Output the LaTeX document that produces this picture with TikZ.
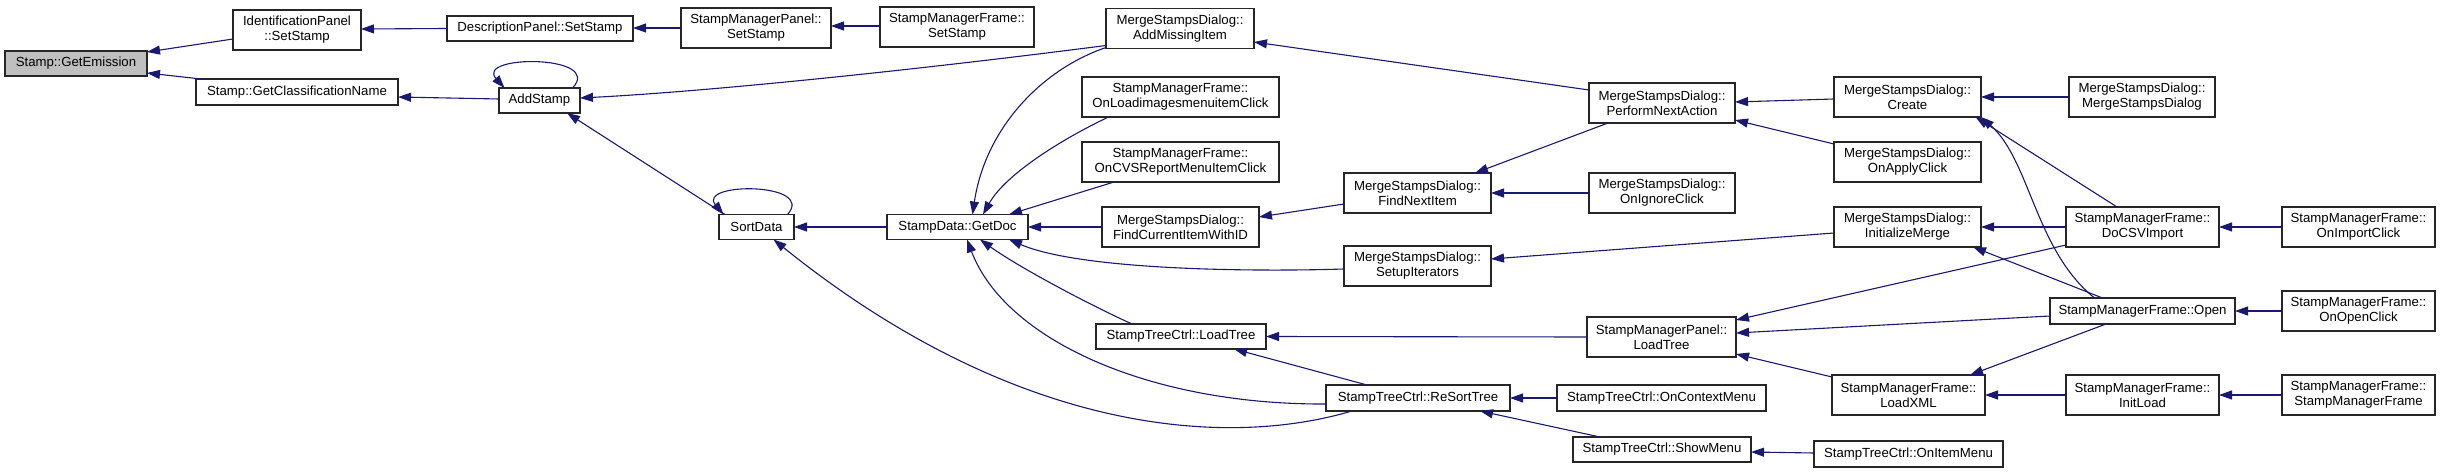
\documentclass[tikz,border=0pt]{standalone}
\usepackage{fontspec}
\setmainfont{Liberation Sans}
\usetikzlibrary{arrows.meta,calc}
\definecolor{edgec}{HTML}{191970}
\definecolor{fillg}{HTML}{BFBFBF}
\begin{document}
\begin{tikzpicture}[x=1pt,y=-1pt,
  box/.style={draw=black!85, line width=1.1pt, fill=white, inner sep=0pt, align=center,
    font=\fontsize{13.2}{15}\selectfont},
  edge/.style={-{Triangle[length=13pt,width=9pt]}, draw=edgec, line width=1.1pt}]
\fill[white] (0,0) rectangle (2449,473);
\useasboundingbox (0,0) rectangle (2449,473);
% nodes
\node[box,fill=fillg,minimum width=142pt,minimum height=25pt] (emi) at (76,63.5) {Stamp::GetEmission};
\node[box,minimum width=128pt,minimum height=40pt] (idp) at (297,30) {IdentificationPanel\\::SetStamp};
\node[box,minimum width=202pt,minimum height=26pt] (gcn) at (297,92) {Stamp::GetClassificationName};
\node[box,minimum width=186pt,minimum height=25pt] (dps) at (540,28.5) {DescriptionPanel::SetStamp};
\node[box,minimum width=81pt,minimum height=25pt] (add) at (539.5,100.5) {AddStamp};
\node[box,minimum width=150pt,minimum height=40pt] (smps) at (756,28) {StampManagerPanel::\\SetStamp};
\node[box,minimum width=75pt,minimum height=25pt] (sort) at (756.5,227) {SortData};
\node[box,minimum width=154pt,minimum height=40pt] (smfs) at (957,27) {StampManagerFrame::\\SetStamp};
\node[box,minimum width=141pt,minimum height=25pt] (doc) at (957.5,227) {StampData::GetDoc};
\node[box,minimum width=148pt,minimum height=40pt] (ami) at (1180,28.5) {MergeStampsDialog::\\AddMissingItem};
\node[box,minimum width=197pt,minimum height=40pt] (oli) at (1180.5,97) {StampManagerFrame::\\OnLoadimagesmenuitemClick};
\node[box,minimum width=197pt,minimum height=40pt] (ocv) at (1180.5,162) {StampManagerFrame::\\OnCVSReportMenuItemClick};
\node[box,minimum width=157pt,minimum height=40pt] (fci) at (1180.5,227) {MergeStampsDialog::\\FindCurrentItemWithID};
\node[box,minimum width=170pt,minimum height=25pt] (stl) at (1181,336.5) {StampTreeCtrl::LoadTree};
\node[box,minimum width=146pt,minimum height=40pt] (pna) at (1662,103) {MergeStampsDialog::\\PerformNextAction};
\node[box,minimum width=147pt,minimum height=40pt] (fni) at (1417.5,193) {MergeStampsDialog::\\FindNextItem};
\node[box,minimum width=147pt,minimum height=40pt] (sit) at (1417.5,266) {MergeStampsDialog::\\SetupIterators};
\node[box,minimum width=184pt,minimum height=26pt] (rst) at (1418,398) {StampTreeCtrl::ReSortTree};
\node[box,minimum width=146pt,minimum height=40pt] (oic) at (1662,193) {MergeStampsDialog::\\OnIgnoreClick};
\node[box,minimum width=149pt,minimum height=40pt] (smpl) at (1661.5,337) {StampManagerPanel::\\LoadTree};
\node[box,minimum width=209pt,minimum height=26pt] (ocm) at (1661.5,398) {StampTreeCtrl::OnContextMenu};
\node[box,minimum width=178pt,minimum height=25pt] (shm) at (1662,449.5) {StampTreeCtrl::ShowMenu};
\node[box,minimum width=147pt,minimum height=40pt] (cre) at (1907.5,97) {MergeStampsDialog::\\Create};
\node[box,minimum width=147pt,minimum height=40pt] (oac) at (1907.5,162) {MergeStampsDialog::\\OnApplyClick};
\node[box,minimum width=147pt,minimum height=40pt] (inm) at (1907.5,227) {MergeStampsDialog::\\InitializeMerge};
\node[box,minimum width=153pt,minimum height=40pt] (lxm) at (1908.5,395) {StampManagerFrame::\\LoadXML};
\node[box,minimum width=189pt,minimum height=26pt] (oim) at (1908.5,454) {StampTreeCtrl::OnItemMenu};
\node[box,minimum width=146pt,minimum height=40pt] (msd) at (2142,97) {MergeStampsDialog::\\MergeStampsDialog};
\node[box,minimum width=153pt,minimum height=40pt] (csv) at (2142.5,227) {StampManagerFrame::\\DoCSVImport};
\node[box,minimum width=185pt,minimum height=26pt] (opn) at (2142.5,311) {StampManagerFrame::Open};
\node[box,minimum width=153pt,minimum height=40pt] (inl) at (2142.5,395) {StampManagerFrame::\\InitLoad};
\node[box,minimum width=153pt,minimum height=40pt] (oimp) at (2358.5,227) {StampManagerFrame::\\OnImportClick};
\node[box,minimum width=153pt,minimum height=40pt] (oop) at (2358.5,311) {StampManagerFrame::\\OnOpenClick};
\node[box,minimum width=153pt,minimum height=40pt] (smf) at (2358.5,395) {StampManagerFrame::\\StampManagerFrame};
% edges (caller -> callee)
\draw[edge] ($(idp)+(-64,9)$) -- ($(emi)+(71,-11.5)$);
\draw[edge] ($(gcn)+(-96,-13)$) -- ($(emi)+(71,9.5)$);
\draw[edge] ($(dps)+(-93,0)$) -- ($(idp)+(64,-1)$);
\draw[edge] ($(smps)+(-75,0)$) -- ($(dps)+(93,-0.5)$);
\draw[edge] ($(smfs)+(-77,-1)$) -- ($(smps)+(75,-2)$);
\draw[edge] ($(add)+(-40.5,-1.5)$) -- ($(gcn)+(101,5)$);
\draw[edge] ($(add)+(33,-12.5)$) .. controls ($(add)+(65,-46)$) and ($(add)+(-65,-46)$) .. ($(add)+(-35,-12.5)$);
\draw[edge] ($(ami)+(-74,17)$) .. controls (900,72) and (700,92) .. ($(add)+(40.5,-2.5)$);
\draw[edge] ($(sort)+(-31.5,-12.5)$) -- ($(add)+(27.5,12.5)$);
\draw[edge] ($(sort)+(31,-12.5)$) .. controls ($(sort)+(60,-45)$) and ($(sort)+(-60,-45)$) .. ($(sort)+(-33,-12.5)$);
\draw[edge] ($(doc)+(-70.5,0)$) -- ($(sort)+(37.5,0)$);
\draw[edge] ($(rst)+(-66,13)$) .. controls (1220,450) and (1010,430) .. ($(sort)+(17,12.5)$);
\draw[edge] ($(ami)+(-74,19)$) .. controls (1040,70) and (985,130) .. ($(doc)+(15,-12.5)$);
\draw[edge] ($(oli)+(-72,20)$) .. controls (1060,140) and (1005,175) .. ($(doc)+(25.5,-12.5)$);
\draw[edge] ($(ocv)+(-66.5,20)$) -- ($(doc)+(51.5,-12.5)$);
\draw[edge] ($(fci)+(-78.5,0)$) -- ($(doc)+(70.5,0)$);
\draw[edge] ($(sit)+(-73.5,3)$) .. controls (1250,272) and (1080,270) .. ($(doc)+(51.5,12.5)$);
\draw[edge] ($(stl)+(-49,-12.5)$) .. controls (1090,305) and (1020,268) .. ($(doc)+(22.5,12.5)$);
\draw[edge] ($(rst)+(-92,6)$) .. controls (1150,405) and (1005,340) .. ($(doc)+(9.5,12.5)$);
\draw[edge] ($(pna)+(-73,-13)$) -- ($(ami)+(74,13.5)$);
\draw[edge] ($(fni)+(-73.5,11)$) -- ($(fci)+(78.5,-10)$);
\draw[edge] ($(pna)+(-54,20)$) -- ($(fni)+(57.5,-20)$);
\draw[edge] ($(oic)+(-73,0)$) -- ($(fni)+(73.5,0)$);
\draw[edge] ($(cre)+(-73.5,2)$) -- ($(pna)+(73,-1)$);
\draw[edge] ($(oac)+(-73.5,-18)$) -- ($(pna)+(73,17)$);
\draw[edge] ($(msd)+(-73,0)$) -- ($(cre)+(73.5,0)$);
\draw[edge] ($(csv)+(-25.5,-20)$) -- ($(cre)+(68,20)$);
\draw[edge] ($(opn)+(-48,-13)$) .. controls (2035,250) and (2030,160) .. ($(cre)+(73.5,20)$);
\draw[edge] ($(inm)+(-73.5,6)$) -- ($(sit)+(73.5,-7)$);
\draw[edge] ($(csv)+(-76.5,0)$) -- ($(inm)+(73.5,0)$);
\draw[edge] ($(opn)+(-40,-13)$) -- ($(inm)+(65.5,20)$);
\draw[edge] ($(oimp)+(-76.5,0)$) -- ($(csv)+(76.5,0)$);
\draw[edge] ($(smpl)+(-74.5,0)$) -- ($(stl)+(85,0)$);
\draw[edge] ($(csv)+(-76.5,18)$) -- ($(smpl)+(74.5,-17)$);
\draw[edge] ($(opn)+(-92.5,5)$) -- ($(smpl)+(74.5,-4)$);
\draw[edge] ($(lxm)+(-76.5,-18)$) -- ($(smpl)+(74.5,17)$);
\draw[edge] ($(oop)+(-76.5,0)$) -- ($(opn)+(92.5,0)$);
\draw[edge] ($(opn)+(-36.5,13)$) -- ($(lxm)+(61.5,-20)$);
\draw[edge] ($(inl)+(-76.5,0)$) -- ($(lxm)+(76.5,0)$);
\draw[edge] ($(smf)+(-76.5,0)$) -- ($(inl)+(76.5,0)$);
\draw[edge] ($(rst)+(-51,-13)$) -- ($(stl)+(53,12.5)$);
\draw[edge] ($(ocm)+(-104.5,0)$) -- ($(rst)+(92,0)$);
\draw[edge] ($(shm)+(-62,-12.5)$) -- ($(rst)+(62,13)$);
\draw[edge] ($(oim)+(-94.5,-1)$) -- ($(shm)+(89,2.5)$);
\end{tikzpicture}
\end{document}
